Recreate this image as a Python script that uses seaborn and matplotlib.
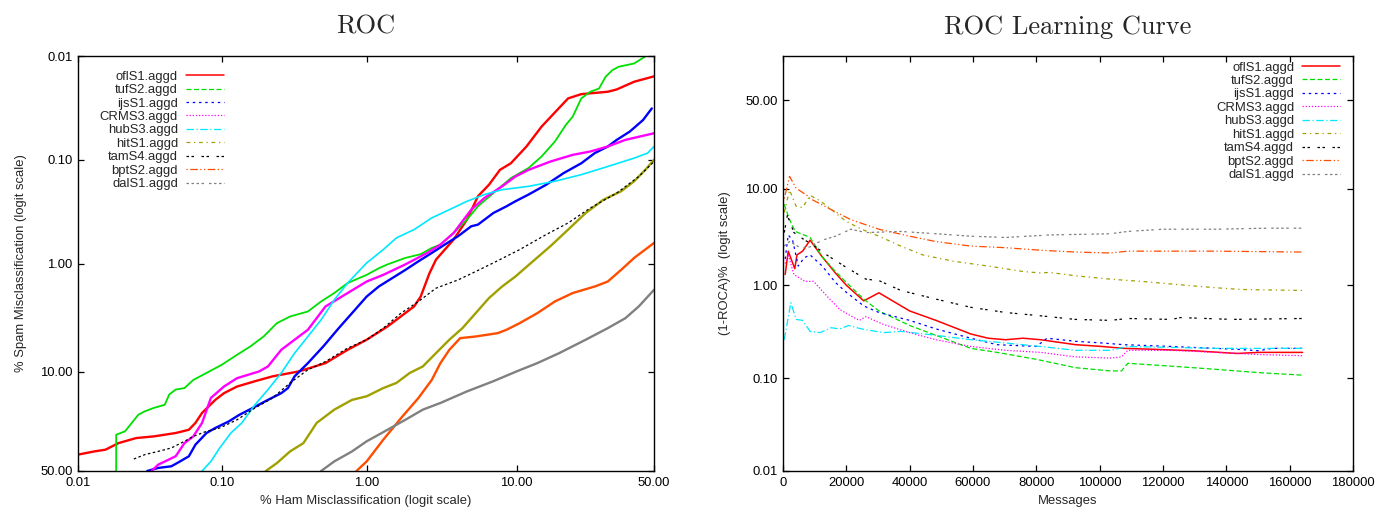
import matplotlib
matplotlib.use('Agg')
import numpy as np
import matplotlib.pyplot as plt
import seaborn as sns
from matplotlib.lines import Line2D

sns.set_style('white')
plt.rcParams['font.family'] = ['Liberation Sans', 'DejaVu Sans']
plt.rcParams['font.size'] = 9.4

NAMES = ['oflS1.aggd', 'tufS2.aggd', 'ijsS1.aggd', 'CRMS3.aggd', 'hubS3.aggd',
         'hitS1.aggd', 'tamS4.aggd', 'bptS2.aggd', 'dalS1.aggd']
COLORS = ['#ff0000', '#00e000', '#0000ff', '#ff00ff', '#00e8ff',
          '#a0a000', '#000000', '#ff4d00', '#808080']
# gnuplot postscript style dash patterns
DASHES = ['-', (0, (4, 2)), (0, (2, 3)), (0, (1, 1.5)), (0, (6, 2, 1, 2)),
          (0, (3, 3, 1, 3)), (0, (2, 2, 2, 6)), (0, (1, 2, 6, 2, 1, 2)),
          (0, (2, 2, 2, 2, 2, 2, 2, 4))]

# ---- ROC: % ham misclassification vs % spam misclassification ----
roc_ofl_ham = [0.010, 0.013, 0.0155, 0.0191, 0.0253, 0.0335, 0.0476, 0.0588, 0.0653, 0.0726,
               0.0897, 0.103, 0.127, 0.169, 0.224, 0.341, 0.520, 0.739, 1.0, 1.39,
               2.11, 2.34, 2.68, 2.97, 3.90, 4.78, 5.65, 6.66, 7.84, 9.20,
               11.5, 14.2, 17.5, 20.2, 23.8, 32.3, 35.5, 42.1, 50.0]
roc_ofl_spam = [41.0, 39.3, 38.4, 35.0, 32.5, 31.7, 30.1, 28.6, 25.6, 21.6,
                17.1, 15.1, 13.3, 12.0, 10.9, 9.88, 8.36, 6.36, 5.15, 3.89,
                2.53, 2.04, 1.23, 0.909, 0.584, 0.376, 0.224, 0.174, 0.125, 0.108,
                0.0745, 0.0479, 0.0332, 0.0256, 0.0233, 0.0221, 0.0210, 0.0177, 0.0157]

roc_tuf_ham = [0.0184, 0.0184, 0.0212, 0.0236, 0.0262, 0.0291, 0.0335, 0.0400, 0.0429, 0.0476,
               0.0548, 0.0631, 0.0779, 0.0996, 0.127, 0.157, 0.194, 0.240, 0.296, 0.393,
               0.485, 0.598, 0.739, 1.0, 1.21, 1.39, 1.84, 2.34, 2.78, 3.18,
               3.90, 4.78, 5.65, 7.11, 9.20, 11.85, 14.2, 17.0, 19.6, 21.4,
               23.8, 26.5, 29.3, 31.5, 33.9, 36.2, 42.1, 46.5, 48.5]
roc_tuf_spam = [50.0, 30.9, 29.3, 25.6, 22.3, 21.0, 19.8, 18.7, 15.5, 14.1,
                13.7, 11.7, 10.2, 8.64, 7.05, 5.93, 4.81, 3.62, 3.14, 2.82,
                2.27, 1.89, 1.52, 1.27, 1.10, 1.01, 0.876, 0.807, 0.703, 0.653,
                0.505, 0.376, 0.280, 0.209, 0.150, 0.120, 0.0929, 0.0667, 0.0462, 0.0384,
                0.0256, 0.0221, 0.0206, 0.0159, 0.0137, 0.0127, 0.0118, 0.0101, 0.0095]

roc_ijs_ham = [0.0302, 0.0360, 0.0444, 0.0511, 0.0588, 0.0653, 0.0779, 0.0897, 0.111, 0.132,
               0.163, 0.208, 0.257, 0.286, 0.318, 0.393, 0.502, 0.642, 0.793, 1.0,
               1.21, 1.49, 1.84, 2.26, 2.78, 3.40, 4.17, 5.10, 5.65, 7.11,
               8.64, 9.81, 11.85, 15.1, 19.1, 23.8, 27.9, 32.3, 35.5, 40.4, 45.6, 49.1]
roc_ijs_spam = [50.0, 48.3, 47.4, 44.7, 41.9, 35.8, 30.1, 27.8, 25.0, 22.3,
                19.8, 17.1, 15.1, 13.7, 10.9, 8.36, 5.93, 4.03, 2.92, 2.04,
                1.64, 1.37, 1.14, 0.943, 0.785, 0.653, 0.543, 0.436, 0.420, 0.325,
                0.280, 0.251, 0.216, 0.174, 0.134, 0.108, 0.0863, 0.0745, 0.0643, 0.0535, 0.0414, 0.0320]

roc_crm_ham = [0.0324, 0.0360, 0.0476, 0.0548, 0.0631, 0.0726, 0.0836, 0.103, 0.127, 0.181,
               0.208, 0.257, 0.318, 0.393, 0.520, 0.739, 1.0, 1.30, 1.84, 2.59,
               3.18, 3.90, 5.10, 6.23, 8.09, 9.81, 11.85, 16.0, 21.4, 26.5, 32.3, 38.7, 50.0]
roc_crm_spam = [50.0, 46.5, 41.9, 35.0, 31.7, 25.6, 16.5, 13.3, 11.3, 9.88,
                8.94, 6.36, 5.15, 4.17, 2.53, 1.89, 1.47, 1.27, 1.01, 0.785,
                0.653, 0.505, 0.302, 0.233, 0.180, 0.145, 0.125, 0.104, 0.0896, 0.0832, 0.0745, 0.0643, 0.0555]

roc_hub_ham = [0.0726, 0.0836, 0.0962, 0.115, 0.137, 0.169, 0.208, 0.257, 0.318, 0.393,
               0.485, 0.598, 0.739, 1.0, 1.30, 1.60, 2.11, 2.78, 3.65, 4.78,
               6.23, 8.09, 11.85, 17.0, 23.8, 32.3, 42.1, 47.4, 50.0]
roc_hub_spam = [50.0, 44.7, 37.5, 30.1, 25.6, 18.7, 14.1, 10.2, 6.81, 4.81,
                3.37, 2.19, 1.52, 0.977, 0.729, 0.563, 0.469, 0.362, 0.302, 0.251,
                0.216, 0.194, 0.180, 0.161, 0.139, 0.116, 0.0964, 0.0863, 0.0745]

roc_hit_ham = [0.201, 0.240, 0.296, 0.366, 0.452, 0.598, 0.793, 1.0, 1.30, 1.60,
               1.97, 2.42, 2.97, 3.65, 4.46, 5.46, 6.66, 8.09, 9.81, 12.6,
               16.0, 20.2, 25.1, 30.8, 37.1, 42.1, 46.5, 50.0]
roc_hit_spam = [50.0, 45.6, 39.3, 35.0, 25.6, 20.4, 17.1, 16.0, 13.7, 12.4,
                10.2, 8.94, 6.81, 5.15, 4.03, 2.92, 2.11, 1.64, 1.32, 0.943,
                0.677, 0.469, 0.325, 0.242, 0.201, 0.161, 0.125, 0.100]

roc_tam_ham = [0.0244, 0.0291, 0.0360, 0.0444, 0.0548, 0.0631, 0.0779, 0.0962, 0.127, 0.169,
               0.224, 0.296, 0.393, 0.520, 0.739, 1.0, 1.30, 1.72, 2.26, 2.97,
               4.17, 5.46, 7.11, 10.45, 15.1, 20.2, 26.5, 35.5, 43.9, 50.0]
roc_tam_spam = [43.4, 41.0, 39.3, 37.5, 34.1, 31.7, 29.3, 27.8, 24.3, 19.8,
                16.5, 12.4, 9.56, 8.1, 6.14, 5.15, 4.03, 2.92, 2.27, 1.70,
                1.42, 1.18, 0.977, 0.729, 0.524, 0.405, 0.291, 0.209, 0.145, 0.104]

roc_bpt_ham = [0.851, 1.0, 1.30, 1.72, 2.26, 2.78, 3.18, 3.65, 4.31, 5.46,
               7.59, 8.64, 10.45, 13.4, 17.0, 21.4, 27.9, 32.3, 37.1, 42.1, 50.0]
roc_bpt_spam = [50.0, 44.7, 33.3, 23.6, 16.5, 11.7, 8.36, 6.36, 4.98, 4.81,
                4.48, 4.17, 3.62, 2.92, 2.27, 1.89, 1.64, 1.47, 1.14, 0.876, 0.629]

roc_dal_ham = [0.485, 0.598, 0.793, 1.0, 1.39, 1.84, 2.42, 3.18, 4.78, 7.11,
               10.0, 13.4, 18.0, 25.1, 32.3, 38.7, 43.9, 50.0]
roc_dal_spam = [50.0, 44.7, 39.3, 34.1, 28.6, 24.3, 20.4, 18.1, 14.6, 12.0,
                9.88, 8.36, 6.81, 5.15, 4.03, 3.26, 2.53, 1.76]

# ---- ROC learning curve: messages vs (1-ROCA)% ----
lc_ofl_msg = [690, 1650, 3720, 4410, 6200, 8550, 12400, 16550, 20000, 25500, 30300, 40000, 48300,
              59300, 64800, 70300, 75800, 81400, 92400, 100700, 107600, 117200, 129600, 143400,
              150300, 164100]
lc_ofl_val = [1.3, 2.3, 1.5, 2.1, 2.3, 3.0, 2.0, 1.35, 1.0, 0.68, 0.83, 0.53, 0.42,
              0.30, 0.27, 0.26, 0.27, 0.26, 0.23, 0.22, 0.21, 0.205, 0.198, 0.185,
              0.19, 0.19]

lc_tuf_msg = [400, 2070, 3860, 7590, 8550, 12400, 16550, 20000, 25500, 30300, 40000, 48300,
              59300, 67600, 80000, 92400, 103400, 106900, 108900, 122700, 136500, 150300, 164100]
lc_tuf_val = [7.0, 4.9, 3.7, 3.3, 3.2, 2.0, 1.4, 1.07, 0.71, 0.53, 0.37, 0.29,
              0.21, 0.19, 0.16, 0.13, 0.12, 0.12, 0.145, 0.135, 0.125, 0.115, 0.108]

lc_ijs_msg = [690, 1650, 3030, 4830, 6620, 8550, 12400, 16550, 20000, 25500, 30300, 40000,
              48300, 59300, 67600, 80000, 83400, 92400, 100700, 107600, 122700, 143400,
              150300, 154500, 164100]
lc_ijs_val = [1.9, 3.4, 3.0, 1.6, 1.95, 2.1, 1.6, 1.07, 0.84, 0.6, 0.51, 0.42,
              0.34, 0.27, 0.23, 0.22, 0.27, 0.25, 0.24, 0.23, 0.22, 0.205,
              0.198, 0.21, 0.21]

lc_crm_msg = [690, 1650, 3450, 6900, 9650, 13800, 17900, 21400, 24100, 26200, 31700, 40000,
              48300, 59300, 70300, 81400, 92400, 103400, 106900, 108900, 122700, 136500,
              150300, 164100]
lc_crm_val = [1.7, 2.1, 1.3, 1.1, 1.1, 0.77, 0.55, 0.47, 0.42, 0.46, 0.38, 0.31,
              0.26, 0.22, 0.2, 0.19, 0.17, 0.165, 0.17, 0.2, 0.2, 0.19,
              0.18, 0.175]

lc_hub_msg = [400, 2480, 4140, 6200, 8550, 11700, 15200, 17900, 20700, 24800, 31700, 37200,
              48300, 59300, 70300, 81400, 92400, 103400, 108900, 122700, 136500, 150300, 164100]
lc_hub_val = [0.26, 0.65, 0.43, 0.42, 0.32, 0.31, 0.35, 0.34, 0.37, 0.34, 0.31, 0.32,
              0.29, 0.26, 0.24, 0.22, 0.2, 0.2, 0.22, 0.215, 0.21, 0.21, 0.21]

lc_hit_msg = [400, 2070, 4140, 6200, 8550, 11700, 14500, 17900, 20000, 24800, 30300, 37200,
              44100, 53800, 64800, 75800, 81400, 84100, 92400, 103400, 114500, 125500,
              136500, 144800, 153100, 164100]
lc_hit_val = [5.8, 9.7, 6.7, 6.5, 8.6, 7.6, 6.5, 5.3, 4.7, 3.9, 3.3, 2.6,
              2.1, 1.8, 1.6, 1.4, 1.35, 1.37, 1.26, 1.16, 1.09, 1.01,
              0.94, 0.9, 0.89, 0.88]

lc_tam_msg = [400, 1380, 3450, 6900, 8550, 13800, 19300, 26200, 30300, 37200, 48300, 59300,
              70300, 81400, 92400, 103400, 108900, 122700, 125500, 142000, 164100]
lc_tam_val = [3.6, 5.4, 3.6, 3.0, 2.8, 2.1, 1.6, 1.16, 1.12, 0.88, 0.71, 0.58,
              0.51, 0.47, 0.43, 0.42, 0.44, 0.43, 0.45, 0.43, 0.44]

lc_bpt_msg = [400, 2070, 4140, 7590, 8550, 15200, 21400, 30300, 40000, 48300, 59300, 70300,
              81400, 92400, 103400, 108900, 122700, 136500, 164100]
lc_bpt_val = [8.0, 13.1, 10.1, 8.6, 8.0, 6.2, 4.9, 3.9, 3.3, 2.9, 2.6, 2.5,
              2.35, 2.25, 2.2, 2.3, 2.3, 2.3, 2.25]

lc_dal_msg = [400, 2070, 5520, 8550, 12400, 16550, 21400, 26200, 37200, 48300, 59300, 70300,
              84100, 103400, 108900, 120000, 136500, 153100, 164100]
lc_dal_val = [2.6, 2.9, 2.5, 2.55, 3.0, 3.3, 3.9, 3.6, 3.7, 3.5, 3.3, 3.2,
              3.4, 3.5, 3.7, 3.9, 3.9, 4.0, 4.0]

ROC_SERIES = [(roc_ofl_ham, roc_ofl_spam), (roc_tuf_ham, roc_tuf_spam), (roc_ijs_ham, roc_ijs_spam),
              (roc_crm_ham, roc_crm_spam), (roc_hub_ham, roc_hub_spam), (roc_hit_ham, roc_hit_spam),
              (roc_tam_ham, roc_tam_spam), (roc_bpt_ham, roc_bpt_spam), (roc_dal_ham, roc_dal_spam)]
LC_SERIES = [(lc_ofl_msg, lc_ofl_val), (lc_tuf_msg, lc_tuf_val), (lc_ijs_msg, lc_ijs_val),
             (lc_crm_msg, lc_crm_val), (lc_hub_msg, lc_hub_val), (lc_hit_msg, lc_hit_val),
             (lc_tam_msg, lc_tam_val), (lc_bpt_msg, lc_bpt_val), (lc_dal_msg, lc_dal_val)]

# line widths / styles on the dense ROC panel (steps make most curves look solid)
ROC_LW = [1.7, 1.3, 1.7, 1.7, 1.2, 1.7, 0.9, 1.7, 1.7]
ROC_LS = ['-', '-', '-', '-', '-', '-', (0, (2, 2)), '-', '-']

PCT_TICKS = [0.01, 0.1, 1, 10, 50]
PCT_LABELS = ['0.01', '0.10', '1.00', '10.00', '50.00']


def logit_pct(p):
    p = np.asarray(p, dtype=float)
    with np.errstate(divide='ignore', invalid='ignore'):
        return np.log(p / (100.0 - p))


def inv_logit_pct(v):
    v = np.asarray(v, dtype=float)
    return 100.0 / (1.0 + np.exp(-v))


def style_axes(ax):
    ax.tick_params(direction='in', top=True, right=True, bottom=True, left=True,
                   length=4.5, width=0.9, pad=4, labelsize=9.4, colors='black')
    for s in ax.spines.values():
        s.set_color('black')
        s.set_linewidth(1.0)
    ax.grid(False)


fig = plt.figure(figsize=(13.79, 5.12), dpi=100)
ax1 = fig.add_axes([0.0566, 0.0801, 0.4177, 0.8105])
ax2 = fig.add_axes([0.5678, 0.0801, 0.4133, 0.8105])

# left: ROC
for (hx, sy), c, lw, ls in zip(ROC_SERIES, COLORS, ROC_LW, ROC_LS):
    sns.lineplot(x=hx, y=sy, ax=ax1, color=c, lw=lw, linestyle=ls,
                 sort=False, estimator=None, legend=False)
ax1.set_xscale('function', functions=(logit_pct, inv_logit_pct))
ax1.set_yscale('function', functions=(logit_pct, inv_logit_pct))
ax1.set_xlim(0.01, 50)
ax1.set_ylim(50, 0.01)
ax1.set_xticks(PCT_TICKS)
ax1.set_xticklabels(PCT_LABELS)
ax1.set_yticks(PCT_TICKS)
ax1.set_yticklabels(PCT_LABELS)
ax1.minorticks_off()
style_axes(ax1)
ax1.set_xlabel('% Ham Misclassification (logit scale)', fontsize=9.4, labelpad=5)
ax1.set_ylabel('% Spam Misclassification (logit scale)', fontsize=9.4, labelpad=9)
ax1.set_title('ROC', fontsize=19, fontfamily='cmr10', pad=16)

# right: learning curve
for (mx, vy), c, ls in zip(LC_SERIES, COLORS, DASHES):
    sns.lineplot(x=mx, y=vy, ax=ax2, color=c, lw=1.1 if ls == '-' else 0.9, linestyle=ls,
                 sort=False, estimator=None, legend=False)
ax2.set_yscale('function', functions=(logit_pct, inv_logit_pct))
ax2.set_xlim(0, 180000)
ax2.set_ylim(0.01, 75)
ax2.set_xticks(np.arange(0, 180001, 20000))
ax2.set_xticklabels([str(v) for v in range(0, 180001, 20000)])
ax2.set_yticks(PCT_TICKS)
ax2.set_yticklabels(PCT_LABELS)
ax2.minorticks_off()
style_axes(ax2)
ax2.set_xlabel('Messages', fontsize=9.4, labelpad=5)
ax2.set_ylabel('(1-ROCA)%  (logit scale)', fontsize=9.4, labelpad=10)
ax2.set_title('ROC Learning Curve', fontsize=19, fontfamily='cmr10', pad=16)

# legend keys with gnuplot line types
handles = [Line2D([], [], color=c, lw=1.1 if ls == '-' else 0.9, linestyle=ls)
           for c, ls in zip(COLORS, DASHES)]
leg_kw = dict(frameon=False, markerfirst=False, fontsize=9.4, handlelength=2.9,
              handletextpad=0.6, labelspacing=0.1, borderpad=0, borderaxespad=0)
ax1.legend(handles, NAMES, loc='upper right', bbox_to_anchor=(0.253, 0.965), **leg_kw)
ax2.legend(handles, NAMES, loc='upper right', bbox_to_anchor=(0.977, 0.987), **leg_kw)

fig.savefig('out.png', dpi=100)
